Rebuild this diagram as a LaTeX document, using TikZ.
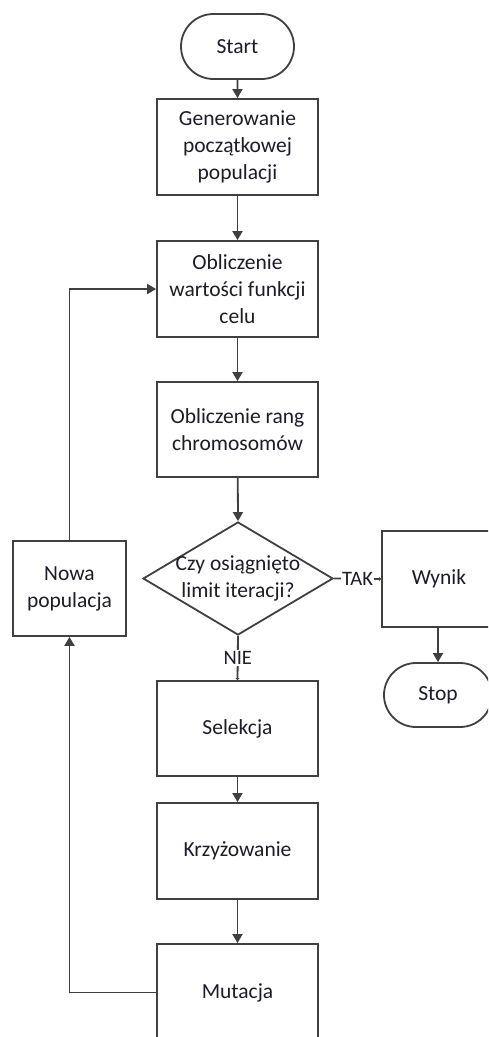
\documentclass[tikz,border=0pt]{standalone}
\usepackage{fontspec}
\setmainfont{Carlito}
\usetikzlibrary{shapes.geometric,shapes.misc,arrows.meta}
\definecolor{linec}{HTML}{404040}
\definecolor{txtc}{HTML}{1C1C2A}
\tikzset{
  boxnode/.style={draw=linec, line width=1.8pt, rectangle, inner sep=2pt, align=center,
    text=txtc, font=\fontsize{21.5}{27}\selectfont},
  termnode/.style={draw=linec, line width=1.8pt, rounded rectangle, inner sep=2pt, align=center,
    text=txtc, font=\fontsize{21.5}{27}\selectfont},
  decnode/.style={draw=linec, line width=1.8pt, diamond, inner sep=0pt, minimum width=190pt, minimum height=113pt},
  txtnode/.style={align=center, text=txtc, font=\fontsize{21.5}{27}\selectfont, inner sep=0pt},
  lblnode/.style={fill=white, text=txtc, font=\fontsize{20.5}{24}\selectfont, inner sep=1pt},
  arr/.style={draw=linec, line width=1.8pt, -{Triangle[width=10pt,length=9pt]}},
  smallarr/.style={draw=linec, line width=1.8pt, -{Triangle[width=4pt,length=2pt]}},
}
\begin{document}
\begin{tikzpicture}[x=1pt,y=-1pt]
\useasboundingbox (0,0) rectangle (488,1037);
\clip (0,0) rectangle (488,1037);
\fill[white] (0,0) rectangle (488,1037);
\node[termnode, minimum width=117pt, minimum height=65pt] (start) at (237.5,46.5) {Start};
\node[boxnode, minimum width=161pt, minimum height=96pt] (gen) at (237.5,147) {Generowanie\\początkowej\\populacji};
\node[boxnode, minimum width=161pt, minimum height=96pt] (obl) at (237.5,289) {Obliczenie\\wartości funkcji\\celu};
\node[boxnode, minimum width=161pt, minimum height=95pt] (rang) at (237.5,429.5) {Obliczenie rang\\chromosomów};
\node[decnode] (dec) at (238,578.5) {};
\node[txtnode] (dect) at (238,578.5) {Czy osiągnięto\\limit iteracji?};
\node[boxnode, minimum width=113pt, minimum height=95pt] (nowa) at (69.5,588.5) {Nowa\\populacja};
\node[boxnode, minimum width=161pt, minimum height=95pt] (sel) at (237.5,728.5) {Selekcja};
\node[boxnode, minimum width=161pt, minimum height=96pt] (krz) at (237.5,851) {Krzyżowanie};
\node[boxnode, minimum width=161pt, minimum height=97pt] (mut) at (237.5,992.5) {Mutacja};
\node[boxnode, minimum width=114pt, minimum height=96pt] (wynik) at (439,579) {Wynik};
\node[termnode, minimum width=112pt, minimum height=64pt] (stop) at (438,695) {Stop};
\draw[arr] (start) -- (gen);
\draw[arr] (gen) -- (obl);
\draw[arr] (obl) -- (rang);
\draw[arr] (rang) -- (dec.north);
\draw[smallarr] (dec.south) -- node[lblnode] (nie) {NIE} (sel.north);
\draw[smallarr] (dec.east) -- node[lblnode] (tak) {TAK} (wynik.west);
\draw[arr] (wynik.south -| stop.north) -- (stop.north);
\draw[arr] (sel) -- (krz);
\draw[arr] (krz) -- (mut);
\draw[arr] (mut.west) -| (nowa.south);
\draw[arr] (nowa.north) |- (obl.west);
\end{tikzpicture}
\end{document}
